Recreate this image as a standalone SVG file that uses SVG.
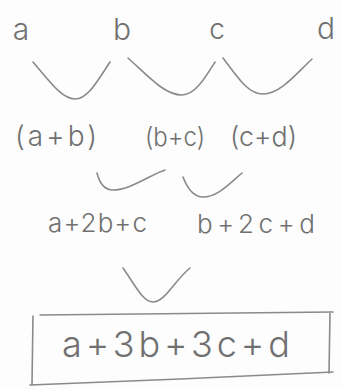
<svg xmlns="http://www.w3.org/2000/svg" width="342" height="389" viewBox="0 0 342 389">
<style>
.t{font-family:"Inter","Open Sans","Liberation Sans",sans-serif;font-weight:300;fill:#707070;}
.c{fill:none;stroke:#8a8a8a;stroke-width:1.6;stroke-linecap:round;stroke-linejoin:round;}
</style>
<rect width="342" height="389" fill="#fdfdfd"/>
<g id="n-a"><text class="t" x="21" y="40" font-size="30" text-anchor="middle">a</text></g>
<g id="n-b"><text class="t" x="122" y="40" font-size="30" text-anchor="middle">b</text></g>
<g id="n-c"><text class="t" x="217" y="39" font-size="28" text-anchor="middle">c</text></g>
<g id="n-d"><text class="t" x="326" y="39" font-size="30" text-anchor="middle">d</text></g>
<g id="n-ab"><text class="t" x="15" y="146" font-size="28" textLength="82" lengthAdjust="spacing">(a+b)</text></g>
<g id="n-bc"><text class="t" x="145" y="146" font-size="26" textLength="60" lengthAdjust="spacingAndGlyphs">(b+c)</text></g>
<g id="n-cd"><text class="t" x="230" y="146" font-size="27" textLength="67" lengthAdjust="spacingAndGlyphs">(c+d)</text></g>
<g id="n-a2bc"><text class="t" x="48" y="232" font-size="26" textLength="99" lengthAdjust="spacing">a+2b+c</text></g>
<g id="n-b2cd"><text class="t" x="197" y="233" font-size="26" textLength="118" lengthAdjust="spacing">b+2c+d</text></g>
<g id="n-result">
<path class="c" d="M40 315 L333 312 M33 316 L32 384 M330 313 L329 373 M30 385 L180 379 L333 372"/>
<text class="t" x="62" y="357" font-size="36" textLength="228" lengthAdjust="spacing">a+3b+3c+d</text>
</g>
<g id="connectors">
<path class="c" d="M33 62 C50 82 62 99 75 99 C88 99 98 80 110 62"/>
<path class="c" d="M128 58 C150 78 165 95 182 95 C195 95 205 78 215 62"/>
<path class="c" d="M223 58 C238 78 248 94 263 94 C280 94 295 75 312 59"/>
<path class="c" d="M97 173 C100 185 106 190 113 190 C130 190 150 175 165 170"/>
<path class="c" d="M183 177 C188 190 195 197 203 197 C218 197 230 183 242 173"/>
<path class="c" d="M123 268 C135 285 143 302 153 302 C165 302 175 280 190 268"/>
</g>
</svg>
